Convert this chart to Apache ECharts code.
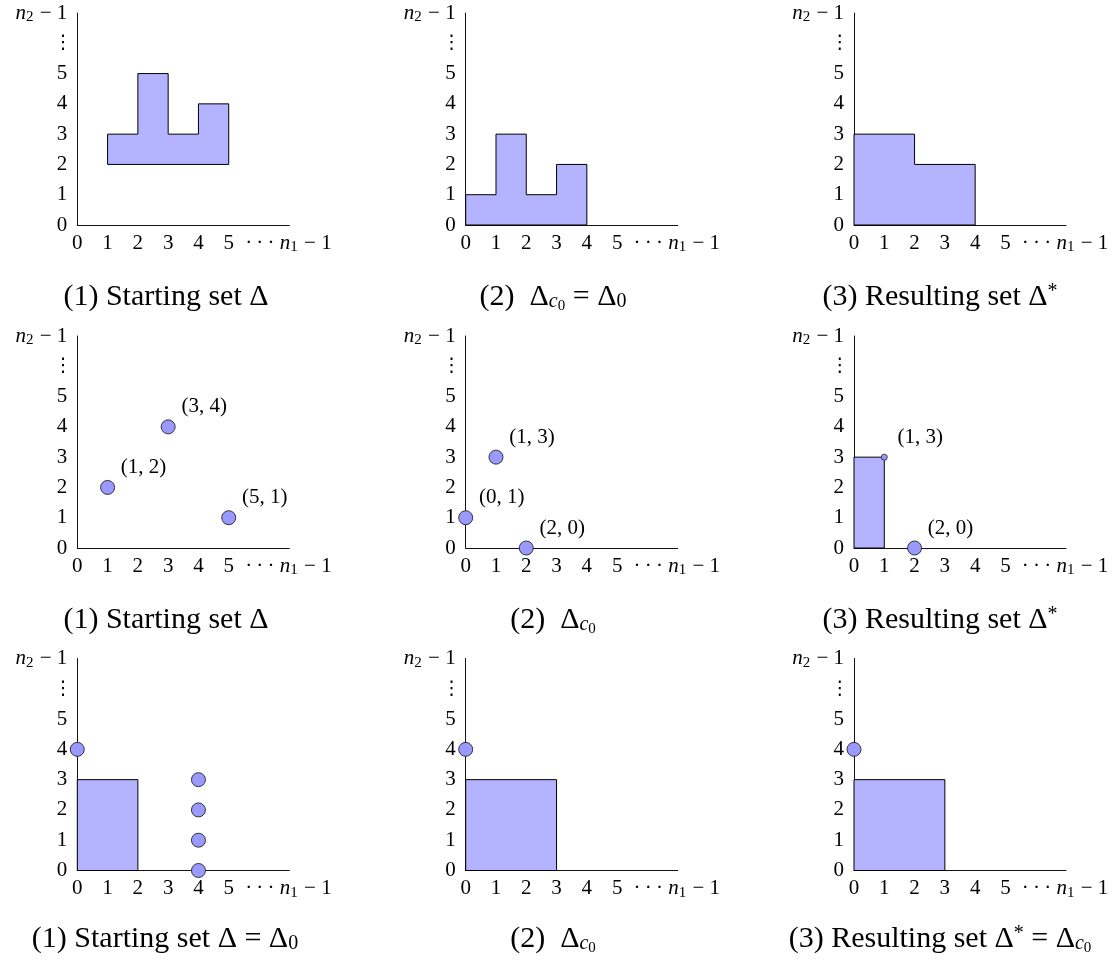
<!DOCTYPE html>
<html><head><meta charset="utf-8">
<script src="https://cdn.jsdelivr.net/npm/echarts@6/dist/echarts.min.js"></script>
<style>html,body{margin:0;padding:0;background:#fff}#c{width:1113px;height:965px}</style>
</head><body><div id="c"></div><script>
// ---------------- data ----------------
const xTickValues = [0, 1, 2, 3, 4, 5];
const xEndLabelPos = 6.97;          // where the "··· n1 − 1" label sits
const yTickLabels = ['0', '1', '2', '3', '4', '5', '⋮', 'n2-1'];

const shapeP1 = [[1,2],[1,3],[2,3],[2,5],[3,5],[3,3],[4,3],[4,4],[5,4],[5,2]];
const shapeP2 = [[0,0],[0,1],[1,1],[1,3],[2,3],[2,1],[3,1],[3,2],[4,2],[4,0]];
const shapeP3 = [[0,0],[0,3],[2,3],[2,2],[4,2],[4,0]];
const pointsP4 = [[1,2],[3,4],[5,1]];
const pointsP5 = [[0,1],[1,3],[2,0]];
const shapeP6 = [[0,0],[0,3],[1,3],[1,0]];
const smallPointsP6 = [[1,3]];
const pointsP6 = [[2,0]];
const shapeP7 = [[0,0],[0,3],[2,3],[2,0]];
const pointsP7 = [[0,4],[4,3],[4,2],[4,1],[4,0]];
const shapeP8 = [[0,0],[0,3],[3,3],[3,0]];
const pointsP8 = [[0,4]];
const shapeP9 = [[0,0],[0,3],[3,3],[3,0]];
const pointsP9 = [[0,4]];

const captions = [
  '{t|(1) Starting set Δ}',
  '{t|(2)  Δ}{ci|c}{s0|0}{t| = Δ}{s|0}',
  '{t|(3) Resulting set Δ}{sup|*}',
  '{t|(1) Starting set Δ}',
  '{t|(2)  Δ}{ci|c}{s0|0}',
  '{t|(3) Resulting set Δ}{sup|*}',
  '{t|(1) Starting set Δ = Δ}{s|0}',
  '{t|(2)  Δ}{ci|c}{s0|0}',
  '{t|(3) Resulting set Δ}{sup|*}{t| = Δ}{ci|c}{s0|0}'
];

const panels = [
  {shape: shapeP1, points: [], labeled: false, small: []},
  {shape: shapeP2, points: [], labeled: false, small: []},
  {shape: shapeP3, points: [], labeled: false, small: []},
  {shape: null, points: pointsP4, labeled: true, small: []},
  {shape: null, points: pointsP5, labeled: true, small: []},
  {shape: shapeP6, points: pointsP6, labeled: true, small: smallPointsP6},
  {shape: shapeP7, points: pointsP7, labeled: false, small: []},
  {shape: shapeP8, points: pointsP8, labeled: false, small: []},
  {shape: shapeP9, points: pointsP9, labeled: false, small: []}
];

// ---------------- layout ----------------
const colX = [77.3, 465.7, 854];
const rowY = [225, 548, 870.5];
const unitH = 212;
const captionCX = [[166, 553, 940], [166, 553, 940], [165, 553, 940]];
const captionTop = [278, 601, 920];

const FONT = '"Liberation Serif", "DejaVu Serif", serif';
const TICK_FS = 21;
const TITLE_FS = 30;
const FILL = '#b3b3ff';
const DOT = '#9999ff';

const base = {fontFamily: FONT, color: '#000', fontWeight: 'normal'};
const tickRich = {
  i: Object.assign({}, base, {fontSize: TICK_FS, fontStyle: 'italic', lineHeight: 26, verticalAlign: 'middle'}),
  s: Object.assign({}, base, {fontSize: 15, lineHeight: 15, verticalAlign: 'bottom', padding: [0, 1, 1, 0]}),
  m: Object.assign({}, base, {fontSize: TICK_FS, lineHeight: 26, verticalAlign: 'middle'}),
  dots: Object.assign({}, base, {fontSize: TICK_FS, lineHeight: 26, verticalAlign: 'middle'}),
  d: {fontFamily: '"DejaVu Sans", sans-serif', fontSize: 19, color: '#000', lineHeight: 26, width: 8, align: 'center', padding: [0, 0, 0, 0]}
};

function yFmt(v) {
  const lab = yTickLabels[Math.round(v)];
  if (lab === undefined) return '';
  if (lab === '⋮') return '{d|⋮}';
  if (lab.indexOf('n') === 0) return '{i|n}{s|2}{m| − 1}';
  return '{m|' + lab + '}';
}
function xFmt(v) {
  if (Math.abs(v - xEndLabelPos) < 1e-6) return '{dots|·\u2009·\u2009· }{i|n}{s|1}{m| − 1}';
  return '{m|' + v + '}';
}

const grids = [], xAxes = [], yAxes = [], series = [], titles = [];
panels.forEach((p, k) => {
  const r = Math.floor(k / 3), c = k % 3;
  grids.push({left: colX[c], top: rowY[r] - unitH, width: unitH, height: unitH, containLabel: false});
  xAxes.push({
    gridIndex: k, type: 'value', min: 0, max: 7, interval: 1,
    axisLine: {show: true, onZero: false, lineStyle: {color: '#111', width: 1}},
    axisTick: {show: false}, splitLine: {show: false},
    axisLabel: {
      customValues: xTickValues.concat([xEndLabelPos]),
      formatter: xFmt, margin: 5, color: '#000', fontFamily: FONT, fontSize: TICK_FS, rich: tickRich
    }
  });
  yAxes.push({
    gridIndex: k, type: 'value', min: 0, max: 7, interval: 1,
    axisLine: {show: true, onZero: false, lineStyle: {color: '#111', width: 1}},
    axisTick: {show: false}, splitLine: {show: false},
    axisLabel: {formatter: yFmt, margin: 10, color: '#000', fontFamily: FONT, fontSize: TICK_FS, rich: tickRich, showMaxLabel: true}
  });
  if (p.shape) {
    const shp = p.shape;
    series.push({
      type: 'custom', coordinateSystem: 'cartesian2d', xAxisIndex: k, yAxisIndex: k,
      data: shp, z: 2, silent: true,
      renderItem: (params, api) => {
        if (params.dataIndex !== 0) return null;
        return {type: 'polygon', shape: {points: shp.map(pt => api.coord(pt))},
                style: {fill: FILL, stroke: '#000', lineWidth: 1}};
      }
    });
  }
  const lab = {
    show: !!p.labeled, position: 'inside', offset: [36, -20], color: '#000',
    fontFamily: FONT, fontSize: TICK_FS,
    formatter: q => '(' + q.value[0] + ', ' + q.value[1] + ')'
  };
  if (p.points.length) {
    series.push({
      type: 'scatter', xAxisIndex: k, yAxisIndex: k, data: p.points, z: 4, silent: true,
      symbol: 'circle', symbolSize: 14,
      itemStyle: {color: DOT, borderColor: '#222', borderWidth: 0.9, opacity: 1},
      label: lab
    });
  }
  if (p.small.length) {
    series.push({
      type: 'scatter', xAxisIndex: k, yAxisIndex: k, data: p.small, z: 4, silent: true,
      symbol: 'circle', symbolSize: 6,
      itemStyle: {color: DOT, borderColor: '#222', borderWidth: 0.8, opacity: 1},
      label: lab
    });
  }
  titles.push({
    text: captions[k], left: captionCX[r][c], top: captionTop[r], textAlign: 'center', padding: 0,
    textStyle: {
      fontWeight: 'normal', fontFamily: FONT, fontSize: TITLE_FS, color: '#000',
      rich: {
        t: Object.assign({}, base, {fontSize: TITLE_FS, lineHeight: 38, verticalAlign: 'middle'}),
        ci: Object.assign({}, base, {fontSize: 20, fontStyle: 'italic', lineHeight: 20, verticalAlign: 'bottom', padding: [0, 0, 4, 0]}),
        s0: Object.assign({}, base, {fontSize: 15, lineHeight: 15, verticalAlign: 'bottom', padding: [0, 0, 2, 0]}),
        s: Object.assign({}, base, {fontSize: 20, lineHeight: 20, verticalAlign: 'bottom', padding: [0, 0, 4, 0]}),
        sup: Object.assign({}, base, {fontSize: 20, lineHeight: 20, verticalAlign: 'top', padding: [4, 0, 0, 0]})
      }
    }
  });
});

const chart = echarts.init(document.getElementById('c'), null, {renderer: 'canvas'});
chart.setOption({
  animation: false, backgroundColor: '#fff',
  title: titles, grid: grids, xAxis: xAxes, yAxis: yAxes, series: series
});
</script></body></html>
